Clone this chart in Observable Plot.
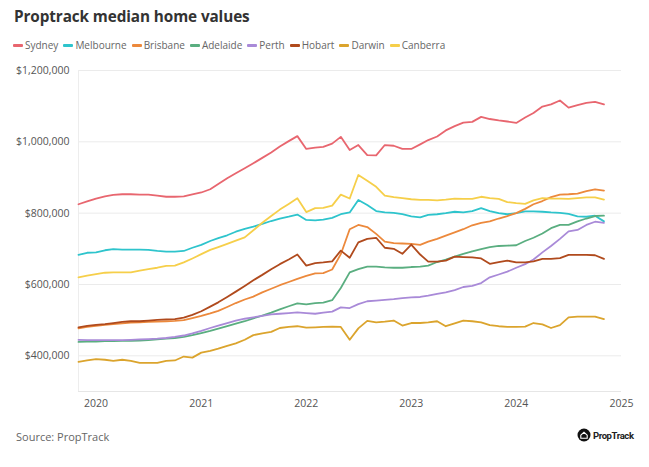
<!DOCTYPE html>
<html>
<head>
<meta charset="utf-8">
<script src="https://cdn.jsdelivr.net/npm/d3@7"></script>
<script src="https://cdn.jsdelivr.net/npm/@observablehq/plot@0.6"></script>
<style>
  body { margin: 0; background: #fff; font-family: "Open Sans", sans-serif; }
  #wrap { position: relative; width: 649px; height: 467px; overflow: hidden; }
  #title { position: absolute; left: 14px; top: 6px; font-size: 15.3px; font-weight: 700; color: #333; letter-spacing: -0.1px; }
  #legend { position: absolute; left: 13px; top: 38px; display: flex; align-items: center; font-size: 10px; color: #666; white-space: nowrap; }
  .item { display: flex; align-items: center; margin-right: 5px; }
  .sw { width: 10px; height: 3px; border-radius: 1px; margin-right: 2px; }
  #chart { position: absolute; left: 0; top: 58px; }
  #source { position: absolute; left: 16px; top: 429px; font-size: 11px; color: #666; }
  #logo { position: absolute; left: 577px; top: 428px; display: flex; align-items: center; font-family: Roboto, sans-serif; font-size: 9.5px; font-weight: 700; color: #222; letter-spacing: -0.4px; }
  #logo svg { margin-right: 2px; }
</style>
</head>
<body>
<div id="wrap">
  <div id="title">Proptrack median home values</div>
  <div id="legend"></div>
  <div id="chart"></div>
  <div id="source">Source: PropTrack</div>
  <div id="logo"><svg width="14" height="14" viewBox="0 0 14 14"><circle cx="7" cy="7" r="6.5" fill="#111"/><path d="M3.8 7.2 L7 4.3 L10.2 7.2 L10.2 10.3 L3.8 10.3 Z" fill="none" stroke="#fff" stroke-width="1.1"/></svg>PropTrack</div>
</div>
<script>
// First month of the monthly series (Nov 2019) through Nov 2024
const firstMonth = "2019-11-01";
const monthCount = 61;

const cities = ["Sydney", "Melbourne", "Brisbane", "Adelaide", "Perth", "Hobart", "Darwin", "Canberra"];
const cityColors = ["#e8666f", "#2ec4cc", "#ec893c", "#5aae80", "#a98ad8", "#b04a1d", "#dba42d", "#f6cf4a"];

// Median home values, $ thousands, monthly
const sydney = [825,833,841,847,851,853,853,852,852,849,846,846,847,853,858,867,882,898,912,926,940,955,970,987,1002,1016,980,984,986,995,1014,977,991,963,962,991,989,980,980,993,1005,1015,1032,1044,1054,1056,1070,1064,1060,1057,1053,1068,1081,1099,1105,1116,1096,1103,1109,1112,1105];
const melbourne = [683,689,690,696,699,698,698,698,697,694,692,692,694,703,711,722,730,738,748,756,762,770,778,785,790,796,781,780,782,787,797,802,837,823,806,802,801,797,791,788,795,797,800,804,802,806,814,806,800,797,800,805,805,804,802,801,798,791,790,793,777];
const brisbane = [477,481,484,487,489,491,493,494,495,496,497,498,500,506,512,519,526,537,548,558,566,578,588,598,607,616,624,631,632,642,685,755,767,761,742,720,716,715,714,711,720,728,737,746,755,766,773,777,785,792,800,812,825,834,845,852,853,855,862,867,863];
const adelaide = [439,440,440,441,441,442,442,443,444,446,448,450,453,458,464,470,476,483,490,497,505,513,521,530,539,547,544,548,549,556,590,634,643,650,650,648,647,647,649,650,653,663,670,678,686,693,699,705,708,709,710,722,731,743,758,767,767,777,785,792,793];
const perth = [445,444,444,444,444,444,445,446,447,448,450,453,457,463,470,478,485,492,499,504,508,512,516,518,520,522,520,518,521,524,536,534,545,553,555,557,559,562,564,565,569,574,578,584,593,596,604,620,628,636,647,657,670,690,708,728,749,753,767,776,773];
const hobart = [480,484,487,489,492,495,497,497,499,501,502,503,507,515,525,538,550,565,580,596,612,627,643,657,670,684,653,660,662,665,695,675,718,728,731,703,700,686,712,684,664,664,667,678,677,676,673,658,663,667,662,662,665,672,672,674,683,683,683,682,672];
const darwin = [383,387,391,389,386,389,386,380,380,380,386,387,398,395,409,414,420,428,435,445,458,463,467,478,481,483,479,480,481,482,481,445,477,498,494,496,499,485,492,492,494,497,483,491,499,497,494,486,483,481,481,482,492,488,478,486,508,510,510,510,503];
const canberra = [620,625,629,633,634,634,634,639,643,647,652,653,662,673,685,697,705,714,723,732,752,773,792,810,826,842,803,814,815,821,852,841,907,891,874,849,845,842,839,837,837,836,838,841,840,840,846,842,840,831,828,826,836,842,841,841,840,842,844,844,838];

const yTicks = [400000, 600000, 800000, 1000000, 1200000];
const yDomain = [300000, 1200000];
const xTickYears = ["2020", "2021", "2022", "2023", "2024", "2025"];
const xEnd = "2025-01-01";

const series = [sydney, melbourne, brisbane, adelaide, perth, hobart, darwin, canberra];
const start = new Date(firstMonth + "T00:00:00Z");
const months = d3.utcMonth.range(start, d3.utcMonth.offset(start, monthCount));
const rows = [];
cities.forEach((city, ci) => {
  series[ci].forEach((v, i) => rows.push({ city, date: months[i], value: v * 1000 }));
});

// Legend
const legend = document.getElementById("legend");
cities.forEach((c, i) => {
  const it = document.createElement("div");
  it.className = "item";
  it.innerHTML = `<span class="sw" style="background:${cityColors[i]}"></span><span>${c}</span>`;
  legend.appendChild(it);
});

const xTicks = xTickYears.map(y => new Date(y + "-01-01T00:00:00Z"));

const chart = Plot.plot({
  width: 649,
  height: 360,
  marginTop: 12,
  marginBottom: 27,
  marginLeft: 78,
  marginRight: 28,
  style: { fontFamily: "Open Sans, sans-serif", fontSize: "10.5px", color: "#555", background: "transparent" },
  x: { type: "utc", domain: [start, new Date(xEnd + "T00:00:00Z")], label: null },
  y: { domain: yDomain, label: null },
  color: { domain: cities, range: cityColors },
  marks: [
    Plot.gridY(yTicks, { stroke: "#ebebeb", strokeOpacity: 1 }),
    Plot.ruleY([yDomain[0]], { stroke: "#e6e6e6" }),
    Plot.ruleX([start], { stroke: "#ededed" }),
    Plot.axisY(yTicks, { tickSize: 0, tickPadding: 9, label: null, tickFormat: d => "$" + d3.format(",")(d) }),
    Plot.axisX(xTicks, { tickSize: 0, tickPadding: 8, label: null, tickFormat: d3.utcFormat("%Y") }),
    Plot.lineY(rows, { x: "date", y: "value", z: "city", stroke: "city", strokeWidth: 1.8, strokeLinejoin: "round" })
  ]
});
document.getElementById("chart").appendChild(chart);
</script>
</body>
</html>
